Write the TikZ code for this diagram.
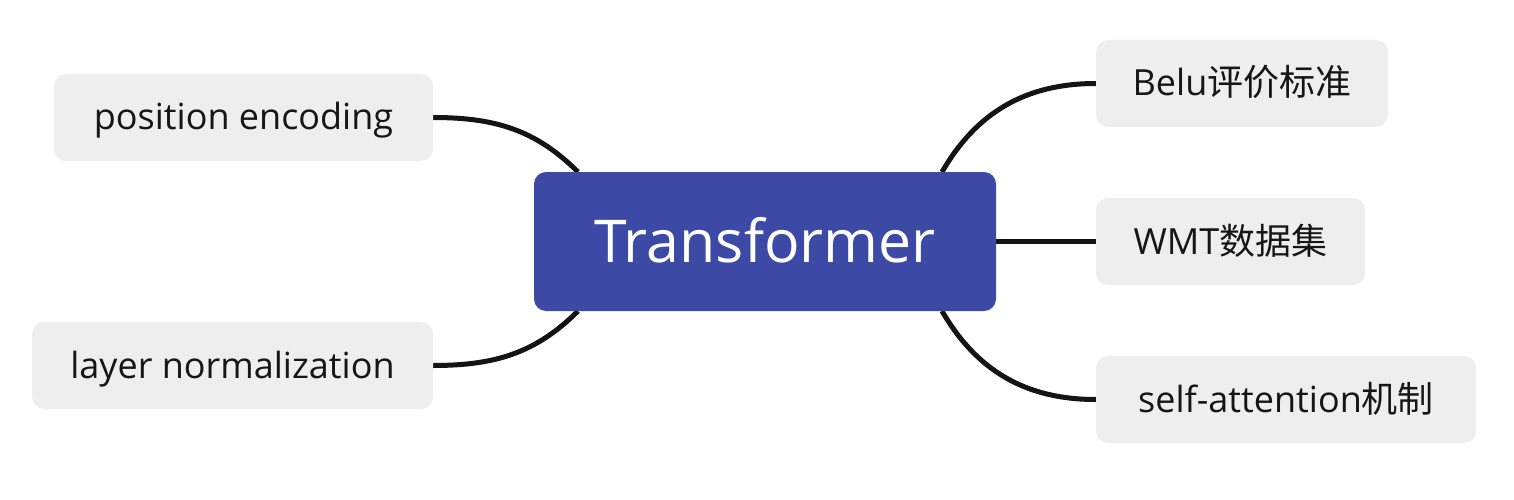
\documentclass[tikz,border=0pt]{standalone}
\usepackage{fontspec}
\setmainfont{Open Sans}
\newfontfamily\cjk{Noto Sans CJK SC}
\usetikzlibrary{positioning, backgrounds}
\definecolor{hubblue}{HTML}{3D4AA5}
\definecolor{topicgray}{HTML}{EEEEEE}
\definecolor{linkblack}{HTML}{141414}
\definecolor{textblack}{HTML}{161616}

\begin{document}
\begin{tikzpicture}[x=1pt, y=-1pt,
  hub/.style={fill=hubblue, text=white, rounded corners=12pt,
              minimum width=462pt, minimum height=139pt,
              text height=42pt, text depth=0pt,
              font=\fontsize{59}{70}\selectfont},
  topic/.style={fill=topicgray, text=textblack, rounded corners=12pt,
                minimum height=87pt, text height=25pt, text depth=0pt,
                font=\fontsize{36}{43}\selectfont},
  link/.style={draw=linkblack, line width=5pt},
]
  \useasboundingbox (0,0) rectangle (1514,500);

  % Central topic
  \node[hub] (hub) at (765, 241.5) {Transformer};

  % Left topics
  \node[topic, minimum width=379pt] (posenc) at (243.5, 117.5) {position encoding};
  \node[topic, minimum width=401pt] (layernorm) at (232.5, 365.5) {layer normalization};

  % Right topics
  \node[topic, minimum width=292pt] (belu) at (1242, 83.5) {Belu{\cjk 评价标准}};
  \node[topic, minimum width=269pt] (wmt) at (1230.5, 241.5) {WMT{\cjk 数据集}};
  \node[topic, minimum width=380pt] (selfatt) at (1286, 399.5) {self-attention{\cjk 机制}};

  % Where the branches meet the hub
  \coordinate (hubTL) at (578, 172);
  \coordinate (hubBL) at (578, 311);
  \coordinate (hubTR) at (942, 172);
  \coordinate (hubBR) at (942, 311);

  \begin{scope}[on background layer]
    % Left branches
    \draw[link] (posenc.east) to[out=0, in=135] (hubTL);
    \draw[link] (layernorm.east) to[out=0, in=-135] (hubBL);

    % Right branches
    \draw[link] (belu.west) to[out=180, in=60] (hubTR);
    \draw[link] (hub.east) -- (wmt.west);
    \draw[link] (selfatt.west) to[out=180, in=-60] (hubBR);
  \end{scope}
\end{tikzpicture}
\end{document}
